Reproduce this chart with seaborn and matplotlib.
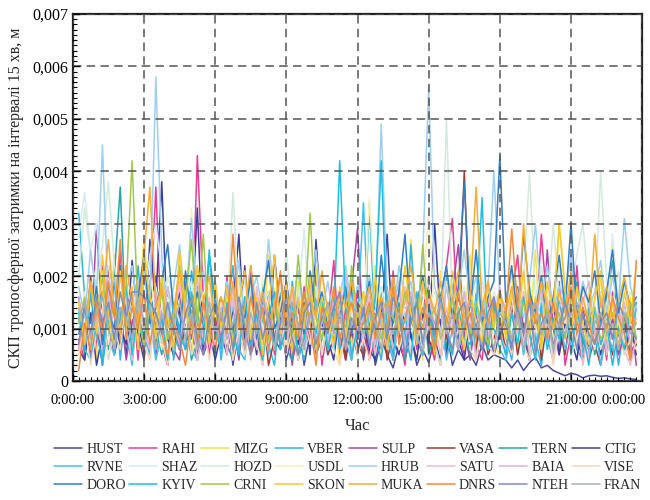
# -*- coding:utf8 -*-
import numpy as np
import pandas as pd
import seaborn as sns
import matplotlib.pyplot as plt
import matplotlib.transforms as mtransforms
from matplotlib.ticker import MultipleLocator, FuncFormatter

# час, год: 15-хвилинні інтервали 0:15 ... 23:45
t = np.arange(0.25, 24, 0.25)
xticks = [0, 3, 6, 9, 12, 15, 18, 21, 24]
xticklabels = ["0:00:00", "3:00:00", "6:00:00", "9:00:00", "12:00:00",
               "15:00:00", "18:00:00", "21:00:00", "0:00:00"]

# СКП, одиниці 1e-4 м (наближено)
HUST = [6, 15, 4, 11, 3, 18, 7, 13, 5, 16, 9, 4, 14, 20, 8, 3, 12, 17, 6, 10, 4, 15, 9, 19,
        5, 13, 3, 10, 22, 7, 14, 4, 17, 8, 6, 19, 5, 12, 3, 9, 16, 4, 11, 7, 14, 5, 9, 13,
        4, 11, 3, 8, 5, 2.5, 7, 4, 9, 3, 6, 3.5, 8, 4, 10, 3, 6, 4, 5, 3, 7, 4, 5, 4.5,
        4, 2.5, 4, 2, 3.5, 4.5, 2.5, 3, 2, 1.5, 1, 1.5, 1.2, 0.6, 1, 1.1, 0.9, 1, 0.7, 0.5, 0.6, 0.4, 0.3]
RAHI = [8, 4, 18, 6, 22, 10, 5, 25, 9, 17, 4, 21, 12, 37, 7, 3, 14, 6, 19, 8, 43, 16, 5, 12,
        7, 20, 4, 15, 6, 22, 9, 3, 17, 5, 13, 19, 4, 8, 18, 6, 21, 3, 11, 23, 5, 14, 6, 18,
        12, 4, 8, 17, 5, 21, 9, 3, 14, 6, 19, 8, 4, 15, 22, 31, 10, 5, 18, 7, 4, 14, 6, 11,
        5, 16, 24, 9, 4, 11, 28, 14, 6, 19, 3, 9, 22, 5, 15, 7, 13, 4, 17, 6, 14, 5, 8]
MIZG = [14, 6, 19, 4, 21, 9, 24, 7, 16, 5, 12, 27, 15, 6, 20, 4, 11, 23, 9, 5, 18, 7, 24, 10,
        6, 16, 4, 20, 9, 5, 15, 7, 24, 17, 6, 13, 4, 19, 7, 16, 22, 5, 12, 15, 3, 19, 6, 13,
        17, 7, 22, 5, 14, 8, 19, 6, 27, 10, 4, 16, 7, 21, 9, 5, 17, 11, 24, 6, 13, 18, 7, 5,
        14, 21, 6, 17, 8, 25, 5, 15, 7, 30, 18, 6, 14, 4, 17, 8, 20, 7, 27, 10, 5, 16, 7]
VBER = [32, 16, 5, 13, 3, 11, 19, 4, 15, 6, 22, 9, 5, 16, 7, 18, 4, 13, 6, 21, 14, 5, 11, 17,
        4, 13, 22, 6, 16, 5, 11, 18, 7, 3, 14, 6, 19, 9, 4, 17, 7, 13, 5, 16, 6, 10, 18, 7,
        5, 34, 9, 4, 14, 7, 18, 6, 26, 10, 5, 16, 7, 3, 20, 9, 6, 15, 4, 17, 8, 13, 5, 15,
        9, 4, 14, 6, 18, 8, 3, 13, 5, 16, 9, 19, 6, 4, 14, 7, 17, 5, 12, 3, 11, 6, 14]
SULP = [7, 15, 5, 30, 10, 19, 6, 14, 4, 11, 17, 7, 20, 5, 13, 16, 6, 4, 14, 9, 18, 5, 8, 13,
        16, 6, 11, 4, 14, 18, 7, 5, 13, 17, 6, 11, 3, 14, 8, 19, 5, 12, 6, 16, 9, 4, 18, 29,
        9, 5, 14, 7, 18, 4, 12, 6, 16, 8, 5, 20, 7, 14, 6, 17, 26, 9, 4, 13, 7, 16, 5, 11,
        14, 6, 18, 9, 4, 15, 7, 25, 10, 5, 17, 6, 11, 14, 4, 8, 16, 6, 12, 5, 9, 14, 3]
VASA = [16, 7, 20, 10, 5, 22, 14, 6, 18, 9, 13, 5, 17, 7, 12, 4, 15, 6, 11, 16, 5, 12, 8, 14,
        6, 13, 4, 11, 15, 5, 9, 14, 3, 8, 13, 5, 11, 4, 9, 15, 6, 12, 5, 8, 14, 4, 10, 7,
        5, 11, 6, 14, 4, 9, 13, 5, 15, 7, 11, 8, 5, 14, 8, 17, 12, 40, 9, 6, 15, 5, 8, 12,
        6, 14, 5, 11, 8, 15, 4, 12, 6, 10, 5, 14, 8, 4, 12, 7, 3, 10, 5, 9, 12, 4, 7]
TERN = [12, 5, 17, 8, 14, 6, 20, 37, 9, 4, 15, 7, 18, 10, 5, 16, 9, 6, 14, 4, 8, 17, 11, 5,
        15, 7, 4, 13, 6, 16, 9, 5, 14, 7, 17, 6, 4, 12, 9, 15, 5, 8, 14, 6, 16, 9, 4, 12,
        8, 14, 5, 17, 9, 6, 15, 4, 12, 8, 16, 5, 9, 14, 6, 18, 8, 12, 5, 15, 9, 6, 14, 8,
        12, 6, 16, 9, 5, 14, 7, 17, 10, 6, 15, 9, 19, 7, 13, 5, 11, 16, 23, 9, 6, 13, 8]
CTIG = [6, 4, 13, 3, 9, 15, 5, 10, 7, 23, 11, 6, 27, 15, 38, 8, 5, 14, 7, 11, 33, 6, 10, 4,
        9, 5, 14, 28, 7, 12, 5, 16, 8, 24, 12, 4, 10, 7, 15, 5, 27, 11, 8, 4, 14, 7, 10, 5,
        12, 6, 4, 11, 28, 8, 5, 14, 9, 4, 13, 7, 30, 11, 5, 15, 8, 4, 13, 9, 6, 14, 5, 9,
        11, 5, 14, 8, 4, 13, 6, 10, 15, 5, 11, 8, 4, 14, 6, 10, 5, 13, 8, 15, 6, 11, 5]
RVNE = [14, 6, 4, 12, 17, 8, 5, 14, 10, 3, 16, 6, 12, 4, 9, 15, 5, 11, 14, 6, 4, 12, 8, 16,
        5, 11, 14, 6, 4, 15, 8, 12, 5, 16, 9, 6, 14, 4, 9, 12, 15, 5, 11, 6, 14, 8, 4, 12,
        34, 9, 5, 13, 8, 4, 12, 6, 15, 9, 5, 17, 8, 13, 4, 10, 6, 12, 16, 5, 9, 13, 10, 6,
        4, 9, 13, 5, 11, 6, 15, 8, 4, 12, 6, 10, 14, 5, 9, 12, 3, 10, 6, 14, 8, 5, 15]
SHAZ = [28, 36, 25, 30, 18, 22, 14, 20, 16, 12, 19, 15, 24, 30, 21, 17, 13, 18, 11, 16, 22, 14, 19, 12,
        15, 10, 17, 13, 19, 11, 14, 9, 16, 12, 18, 10, 13, 15, 29, 11, 17, 9, 14, 12, 16, 20, 13, 10,
        12, 16, 11, 18, 14, 9, 20, 13, 17, 11, 15, 19, 12, 14, 10, 16, 13, 18, 11, 15, 20, 12, 17, 14,
        11, 16, 13, 19, 10, 15, 12, 18, 14, 22, 11, 16, 13, 19, 15, 10, 17, 12, 28, 14, 18, 11, 16]
HOZD = [20, 33, 24, 18, 26, 38, 22, 15, 19, 13, 17, 21, 14, 18, 12, 20, 16, 11, 15, 19, 13, 17, 12, 16,
        14, 11, 36, 15, 12, 18, 10, 14, 17, 11, 13, 25, 12, 16, 10, 14, 18, 11, 13, 15, 9, 17, 12, 14,
        11, 15, 13, 18, 10, 14, 16, 12, 19, 13, 11, 15, 17, 12, 50, 14, 18, 11, 16, 13, 19, 12, 15, 17,
        13, 16, 12, 19, 40, 15, 22, 13, 30, 16, 12, 18, 24, 30, 17, 14, 40, 19, 15, 21, 13, 17, 14]
USDL = [9, 17, 6, 13, 20, 7, 15, 10, 18, 5, 14, 9, 21, 12, 6, 16, 10, 24, 7, 33, 15, 8, 19, 6,
        13, 7, 17, 10, 5, 15, 8, 20, 6, 14, 10, 7, 18, 12, 5, 15, 9, 21, 6, 13, 17, 7, 11, 14,
        9, 35, 15, 7, 13, 18, 6, 11, 17, 8, 14, 33, 12, 7, 19, 10, 15, 6, 13, 18, 8, 14, 7, 11,
        15, 8, 13, 19, 7, 14, 10, 17, 6, 13, 9, 16, 7, 18, 10, 6, 14, 9, 13, 17, 7, 11, 9]
HRUB = [18, 12, 25, 16, 45, 14, 20, 11, 17, 22, 13, 19, 15, 58, 24, 12, 18, 26, 14, 31, 16, 21, 13, 17,
        12, 19, 14, 23, 11, 16, 20, 13, 27, 15, 10, 18, 14, 21, 12, 17, 25, 13, 19, 11, 16, 22, 14, 18,
        13, 20, 15, 49, 17, 12, 22, 16, 19, 11, 24, 56, 18, 14, 21, 13, 17, 25, 15, 20, 12, 18, 40, 16,
        14, 21, 17, 12, 19, 30, 15, 22, 13, 18, 16, 24, 12, 19, 14, 17, 23, 13, 20, 15, 31, 18, 14]
SATU = [6, 15, 9, 18, 5, 13, 7, 21, 10, 4, 16, 9, 6, 17, 12, 5, 11, 19, 7, 14, 4, 10, 16, 6,
        12, 5, 16, 8, 13, 4, 18, 9, 6, 15, 11, 5, 17, 8, 13, 9, 4, 16, 6, 11, 14, 8, 5, 13,
        8, 16, 5, 11, 15, 6, 10, 18, 4, 13, 8, 16, 11, 5, 14, 9, 6, 17, 12, 4, 11, 8, 16, 9,
        6, 13, 9, 17, 5, 11, 8, 16, 4, 10, 14, 6, 13, 3, 11, 8, 16, 5, 10, 13, 6, 3, 8]
BAIA = [16, 8, 19, 11, 6, 17, 9, 21, 13, 7, 19, 11, 6, 16, 10, 18, 13, 7, 17, 11, 20, 9, 15, 6,
        14, 9, 18, 7, 16, 11, 6, 17, 10, 14, 20, 8, 12, 16, 6, 18, 9, 14, 7, 17, 11, 21, 9, 15,
        11, 18, 7, 15, 9, 14, 19, 6, 17, 11, 7, 16, 13, 9, 18, 11, 6, 17, 9, 14, 7, 16, 11, 18,
        9, 14, 17, 7, 16, 11, 18, 9, 6, 14, 17, 11, 7, 15, 19, 9, 13, 6, 16, 11, 15, 7, 12]
VISE = [5, 11, 3, 9, 14, 4, 10, 6, 16, 5, 12, 7, 4, 15, 8, 3, 11, 6, 14, 5, 8, 12, 4, 10,
        6, 13, 4, 10, 5, 12, 7, 3, 11, 6, 15, 5, 10, 4, 12, 7, 14, 5, 11, 6, 3, 10, 12, 5,
        8, 4, 12, 6, 11, 5, 14, 9, 4, 13, 6, 11, 7, 3, 12, 5, 10, 14, 6, 4, 11, 7, 5, 12,
        9, 5, 13, 7, 4, 11, 6, 12, 3, 10, 14, 5, 8, 11, 4, 13, 6, 10, 3, 12, 5, 8, 6]
DORO = [9, 14, 11, 18, 7, 13, 10, 22, 12, 8, 16, 24, 11, 14, 19, 26, 13, 9, 21, 12, 17, 10, 24, 15,
        11, 18, 9, 14, 12, 20, 8, 16, 23, 10, 13, 19, 11, 15, 9, 21, 13, 17, 10, 14, 12, 18, 9, 15,
        13, 19, 10, 24, 14, 11, 17, 28, 12, 15, 20, 13, 9, 16, 22, 12, 18, 38, 14, 25, 11, 16, 19, 43,
        15, 22, 12, 28, 17, 13, 20, 11, 16, 24, 14, 30, 12, 18, 15, 21, 11, 17, 25, 13, 19, 14, 16]
KYIV = [13, 6, 17, 9, 4, 15, 7, 12, 18, 5, 13, 8, 16, 6, 12, 4, 15, 9, 6, 17, 11, 7, 25, 10,
        6, 15, 9, 5, 16, 7, 13, 4, 12, 17, 6, 10, 15, 5, 8, 13, 9, 16, 6, 12, 42, 14, 5, 10,
        13, 7, 16, 42, 10, 5, 14, 9, 4, 17, 7, 13, 6, 16, 10, 5, 14, 8, 7, 13, 35, 6, 15, 9,
        5, 13, 7, 16, 9, 4, 14, 6, 12, 8, 17, 5, 13, 9, 3, 14, 7, 11, 3, 10, 6, 13, 15]
CRNI = [11, 16, 8, 13, 20, 10, 15, 9, 18, 42, 12, 7, 14, 10, 17, 8, 12, 22, 15, 27, 11, 28, 9, 14,
        10, 13, 7, 16, 11, 9, 14, 12, 8, 15, 10, 13, 9, 24, 11, 32, 12, 8, 15, 10, 13, 7, 22, 11,
        9, 14, 11, 8, 15, 12, 10, 17, 13, 9, 26, 11, 14, 8, 12, 16, 10, 13, 9, 15, 11, 7, 12, 10,
        13, 8, 11, 15, 9, 12, 7, 14, 10, 13, 8, 16, 11, 9, 12, 14, 8, 10, 13, 9, 11, 15, 8]
SKON = [15, 7, 19, 9, 24, 13, 6, 21, 10, 18, 6, 23, 16, 8, 20, 12, 6, 25, 14, 9, 22, 15, 7, 19,
        10, 18, 7, 15, 21, 8, 16, 5, 14, 24, 9, 19, 6, 15, 10, 20, 6, 16, 12, 7, 18, 8, 15, 10,
        17, 8, 20, 12, 6, 18, 10, 22, 13, 7, 19, 12, 5, 16, 10, 21, 13, 6, 17, 11, 7, 19, 10, 16,
        8, 17, 12, 21, 9, 16, 6, 19, 13, 30, 17, 9, 18, 11, 7, 16, 21, 9, 15, 6, 17, 11, 22]
MUKA = [14, 10, 19, 12, 16, 27, 13, 9, 22, 15, 11, 24, 37, 14, 18, 10, 13, 21, 12, 16, 9, 15, 20, 11,
        16, 12, 19, 10, 14, 22, 13, 17, 11, 15, 20, 12, 18, 10, 14, 16, 12, 21, 13, 11, 17, 14, 19, 12,
        14, 18, 11, 16, 13, 20, 12, 15, 22, 14, 10, 17, 13, 19, 11, 15, 21, 12, 16, 37, 14, 19, 12, 17,
        13, 18, 11, 30, 15, 12, 19, 14, 10, 17, 13, 21, 12, 16, 11, 28, 14, 18, 12, 15, 20, 13, 11]
DNRS = [2, 11, 6, 15, 9, 19, 12, 27, 8, 14, 10, 17, 7, 13, 9, 5, 11, 8, 3, 12, 7, 15, 10, 6,
        13, 9, 28, 11, 7, 16, 10, 14, 6, 12, 21, 9, 13, 8, 17, 11, 3, 14, 10, 18, 8, 12, 15, 9,
        11, 15, 8, 13, 10, 18, 7, 12, 16, 9, 14, 11, 6, 15, 12, 9, 17, 10, 13, 8, 14, 11, 16, 10,
        12, 29, 14, 9, 16, 11, 13, 8, 15, 10, 12, 18, 9, 14, 11, 7, 13, 10, 16, 12, 9, 4, 23]
NTEH = [7, 14, 9, 16, 11, 15, 8, 17, 12, 17, 17, 16, 15, 13, 9, 15, 10, 6, 13, 16, 8, 5, 12, 15,
        8, 14, 6, 16, 10, 5, 15, 8, 13, 6, 11, 16, 8, 5, 13, 15, 7, 12, 9, 14, 17, 7, 12, 9,
        14, 7, 12, 15, 8, 16, 13, 5, 11, 15, 7, 13, 9, 16, 10, 6, 13, 15, 8, 11, 6, 13, 16, 9,
        12, 6, 14, 9, 15, 5, 11, 13, 7, 10, 15, 11, 6, 13, 9, 7, 11, 13, 8, 15, 12, 10, 8]
FRAN = [12, 15, 8, 13, 16, 10, 6, 14, 12, 8, 16, 11, 14, 6, 13, 9, 11, 15, 8, 13, 6, 11, 15, 9,
        13, 8, 11, 15, 6, 13, 9, 16, 11, 6, 13, 9, 15, 11, 6, 13, 8, 11, 15, 9, 13, 6, 11, 14,
        9, 13, 11, 6, 15, 9, 13, 11, 16, 8, 6, 13, 11, 15, 9, 13, 6, 11, 15, 9, 13, 11, 6, 13,
        11, 8, 13, 6, 11, 15, 9, 13, 6, 11, 9, 13, 15, 9, 6, 11, 13, 9, 11, 6, 13, 9, 11]

stations = ["HUST", "RAHI", "MIZG", "VBER", "SULP", "VASA", "TERN", "CTIG",
            "RVNE", "SHAZ", "HOZD", "USDL", "HRUB", "SATU", "BAIA", "VISE",
            "DORO", "KYIV", "CRNI", "SKON", "MUKA", "DNRS", "NTEH", "FRAN"]
series = [HUST, RAHI, MIZG, VBER, SULP, VASA, TERN, CTIG,
          RVNE, SHAZ, HOZD, USDL, HRUB, SATU, BAIA, VISE,
          DORO, KYIV, CRNI, SKON, MUKA, DNRS, NTEH, FRAN]
colors = ["#4a4a9c", "#ea3c96", "#f6e34c", "#2cb6ea", "#a64aa6", "#a63a32", "#26a6a8", "#3e3e9e",
          "#44c0f0", "#d6ebf6", "#d4eadc", "#f6efbe", "#9ecff2", "#f2b8cc", "#d6b6da", "#f7d5bd",
          "#2f7ec6", "#1ebfe2", "#a2c84c", "#f8c830", "#f8ac38", "#f28a3c", "#7c8ec2", "#a8aeb6"]

frames = []
for name, vals in zip(stations, series):
    assert len(vals) == len(t), name
    frames.append(pd.DataFrame({"t": t, "v": np.array(vals) * 1e-4, "st": name}))
df = pd.concat(frames, ignore_index=True)

sns.set_style("ticks")
plt.rcParams["font.family"] = ["Liberation Serif", "DejaVu Serif"]

fig = plt.figure(figsize=(6.5, 5), dpi=100)
ax = fig.add_axes([0.112, 0.238, 0.876, 0.734])

sns.lineplot(data=df, x="t", y="v", hue="st", hue_order=stations,
             palette=dict(zip(stations, colors)), estimator=None,
             linewidth=1.1, ax=ax)

ax.set_xlim(0, 24)
ax.set_ylim(0, 0.007)
ax.set_xticks(xticks)
ax.set_xticklabels(xticklabels)
ax.xaxis.set_minor_locator(MultipleLocator(0.25))
ax.yaxis.set_major_locator(MultipleLocator(0.001))
ax.yaxis.set_minor_locator(MultipleLocator(0.0001))
ax.yaxis.set_major_formatter(FuncFormatter(
    lambda y, p: "0" if abs(y) < 1e-9 else ("%.3f" % y).replace(".", ",")))

ax.tick_params(which="both", direction="in", top=False, right=False, colors="black")
ax.tick_params(axis="y", labelsize=11.5)
ax.tick_params(axis="x", labelsize=10.5, pad=9)
ax.tick_params(which="major", length=5, width=1.0)
ax.tick_params(which="minor", length=3, width=0.8)

# останню мітку "0:00:00" зсунуто вліво, щоб не виходила за край
last = ax.get_xticklabels()[-1]
last.set_horizontalalignment("right")
last.set_transform(last.get_transform() + mtransforms.ScaledTranslation(4 / 100, 0, fig.dpi_scale_trans))

for s in ax.spines.values():
    s.set_visible(True)
    s.set_color("#222222")
    s.set_linewidth(1.6)

ax.set_axisbelow(False)
ax.grid(True, which="major", color="#555555", linestyle=(0, (5.5, 3.5)), linewidth=1.1)

ax.set_xlabel("Час", fontsize=12, labelpad=8)
ax.set_ylabel("СКП тропосферної затримки на інтервалі 15 хв, м", fontsize=11.5, labelpad=6)

leg = ax.get_legend()
handles = leg.legend_handles
labels = [tx.get_text() for tx in leg.get_texts()]
leg.remove()
order = [r * 8 + c for c in range(8) for r in range(3)]
fig.legend([handles[i] for i in order], [labels[i] for i in order],
           ncol=8, loc="lower left", bbox_to_anchor=(0.075, 0.005, 0.92, 0.115),
           mode="expand", frameon=False, fontsize=10, handlelength=2.0,
           handletextpad=0.3, borderaxespad=0, labelspacing=0.35)

fig.savefig("out.png", dpi=100)
